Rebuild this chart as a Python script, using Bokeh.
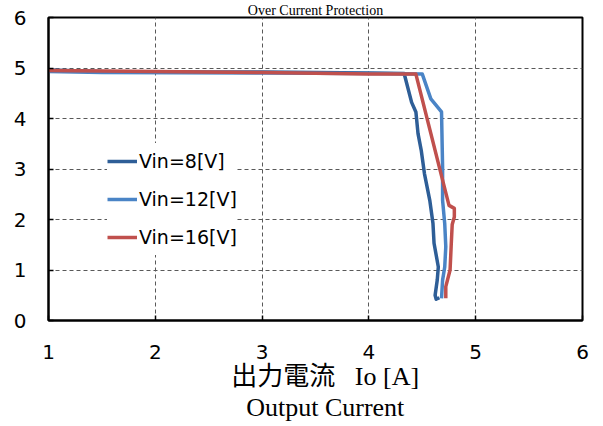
from bokeh.plotting import figure
from bokeh.models import Range1d, FixedTicker
from bokeh.embed import file_html
from bokeh.resources import INLINE

# Output voltage vs. output current for three input voltages
io_8v = [1.00, 1.50, 2.50, 3.00, 3.50, 4.00, 4.33, 4.40, 4.44, 4.46, 4.49, 4.52,
         4.57, 4.60, 4.61, 4.65, 4.64, 4.62, 4.63, 4.66]
vo_8v = [4.96, 4.93, 4.92, 4.92, 4.91, 4.90, 4.89, 4.32, 4.13, 3.70, 3.37, 2.91,
         2.38, 1.92, 1.53, 1.06, 0.80, 0.50, 0.42, 0.45]

io_12v = [1.00, 1.50, 3.00, 4.00, 4.50, 4.58, 4.68, 4.69, 4.69, 4.71, 4.72,
          4.71, 4.69, 4.68]
vo_12v = [4.93, 4.91, 4.90, 4.89, 4.88, 4.39, 4.13, 3.04, 2.38, 1.92, 1.46,
          1.06, 0.80, 0.44]

io_16v = [1.00, 2.00, 3.00, 4.00, 4.44, 4.69, 4.75, 4.80, 4.80, 4.78, 4.77,
          4.76, 4.72, 4.72]
vo_16v = [4.95, 4.93, 4.91, 4.88, 4.88, 2.78, 2.28, 2.22, 2.05, 1.90, 1.46,
          1.00, 0.67, 0.44]

series_labels = ["Vin=8[V]", "Vin=12[V]", "Vin=16[V]"]
series_colors = ["#2E5E97", "#4A84C6", "#C0504D"]

x_ticks = [1, 2, 3, 4, 5, 6]
y_ticks = [0, 1, 2, 3, 4, 5, 6]

chart_title = "Over Current Protection"
# leading no-break spaces nudge the centred axis title a little to the right
pad = "\u00a0\u00a0\u00a0"
x_title = pad + "出力電流\u00a0\u00a0 Io [A]\n" + pad + "Output Current"

serif = "'Liberation Serif', 'Noto Sans CJK JP'"

p = figure(width=603, height=426, output_backend="svg", toolbar_location=None,
           x_range=Range1d(1, 6), y_range=Range1d(0, 6),
           min_border_left=48, min_border_right=21,
           min_border_top=17, min_border_bottom=106)
p.title.text = chart_title
p.title.align = "center"
p.title.text_font = serif
p.title.text_font_style = "normal"
p.title.text_font_size = "14px"
p.title.text_color = "black"
p.title.standoff = 0
p.title.offset = 0

p.background_fill_color = "white"
p.border_fill_color = "white"
p.outline_line_color = "black"
p.outline_line_width = 2

for ax, ticks in ((p.xaxis, x_ticks), (p.yaxis, y_ticks)):
    ax.ticker = FixedTicker(ticks=ticks)
    ax.axis_line_color = "black"
    ax.axis_line_width = 2
    ax.major_tick_in = 5
    ax.major_tick_out = 0
    ax.major_tick_line_color = "black"
    ax.major_tick_line_width = 1.5
    ax.minor_tick_line_color = None
    ax.major_label_text_font = "DejaVu Sans"
    ax.major_label_text_font_size = "20px"
    ax.major_label_text_color = "black"
p.xaxis.major_label_standoff = 24
p.yaxis.major_label_standoff = 22

p.xaxis.axis_label = x_title
p.xaxis.axis_label_text_font = serif
p.xaxis.axis_label_text_font_style = "normal"
p.xaxis.axis_label_text_font_size = "26px"
p.xaxis.axis_label_text_color = "black"
p.xaxis.axis_label_text_line_height = 1.1
p.xaxis.axis_label_standoff = 0

for g in (p.xgrid, p.ygrid):
    g.grid_line_color = "#595959"
    g.grid_line_dash = "4 3"
    g.grid_line_width = 1

for xs, ys, lab, col in zip((io_8v, io_12v, io_16v), (vo_8v, vo_12v, vo_16v),
                            series_labels, series_colors):
    p.line(xs, ys, line_color=col, line_width=3.5, line_join="round",
           legend_label=lab)

lg = p.legend[0]
lg.location = (59, 65)
lg.border_line_color = None
lg.background_fill_color = "white"
lg.background_fill_alpha = 1.0
lg.padding = 4
lg.margin = 0
lg.spacing = 2
lg.glyph_width = 30
lg.glyph_height = 36
lg.label_height = 36
lg.label_standoff = 2
lg.label_text_font = "DejaVu Sans"
lg.label_text_font_size = "19px"
lg.label_text_color = "black"

open("out.html", "w").write(file_html(p, INLINE))
